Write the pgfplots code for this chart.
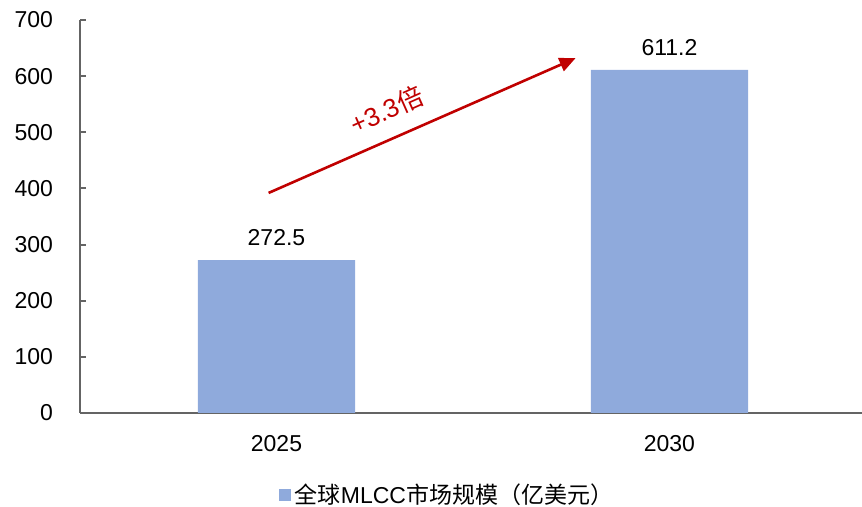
\documentclass[border=0pt]{standalone}
\usepackage{pgfplots}
\pgfplotsset{compat=1.18}
\usetikzlibrary{arrows.meta}
\usepackage{fontspec}
\setmainfont{Liberation Sans}
\newfontfamily\cjk{Noto Sans CJK SC}
\definecolor{barblue}{HTML}{8FAADC}
\definecolor{arrowred}{HTML}{C00000}
\definecolor{axisgray}{RGB}{100,100,100}
\newcommand{\lblfont}{\fontsize{11.5}{14}\selectfont}
\begin{document}
\begin{tikzpicture}[x=1pt,y=1pt]
\useasboundingbox (0,0) rectangle (431,253.5);
\begin{axis}[
 at={(40pt,47pt)}, anchor=south west,
 scale only axis, width=391pt, height=196.5pt,
 xmin=-0.5, xmax=1.49, ymin=0, ymax=700,
 axis x line=bottom, axis y line=left,
 axis line style={-, draw=axisgray, line width=1pt},
 xtick={0,1}, xticklabels={2025,2030},
 xtick style={draw=none},
 ytick={0,100,...,700},
 ytick style={draw=axisgray, line width=1pt},
 tick align=inside, major tick length=3pt,
 tick label style={font=\lblfont, black},
 xticklabel style={yshift=-4.8pt},
 yticklabel style={xshift=-10pt},
 /pgf/number format/assume math mode=true,
 ybar, bar width=0.4,
 nodes near coords,
 nodes near coords style={font=\lblfont, black, yshift=3.5pt, /pgf/number format/.cd, fixed, fixed zerofill, precision=1, assume math mode=true},
 legend style={at={(0.4705,-0.2087)}, anchor=center, draw=none, font=\lblfont},
 legend image code/.code={\fill[barblue] (0pt,-3pt) rectangle (6pt,3pt);},
]
\addplot[fill=barblue, draw=none] coordinates {(0,272.5) (1,611.2)};
\addlegendentry{{\cjk 全球}MLCC{\cjk 市场规模（亿美元）}}
\draw[arrowred, line width=1.3pt, -{Triangle[length=8pt,width=7pt]}] (axis cs:-0.02,392) -- (axis cs:0.761,632);
\node[arrowred, rotate=24, font=\fontsize{13}{15}\selectfont] at (axis cs:0.28,540) {+3.3{\cjk 倍}};
\end{axis}
\end{tikzpicture}
\end{document}
